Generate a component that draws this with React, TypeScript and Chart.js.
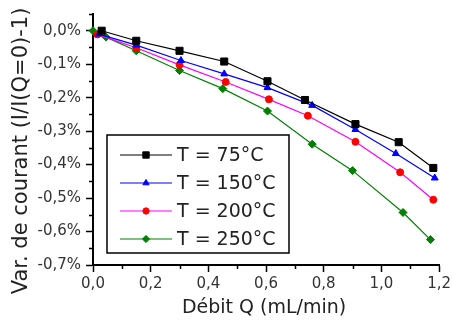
import React, { useEffect, useRef } from "react";
import { Chart, registerables } from "chart.js";

Chart.register(...registerables);

// Débit Q (mL/min) and relative current change (%) per temperature
const q75 = [0.03, 0.15, 0.3, 0.455, 0.605, 0.735, 0.91, 1.06, 1.18];
const v75 = [0.0, -0.03, -0.06, -0.092, -0.151, -0.207, -0.279, -0.333, -0.41];

const q150 = [0.02, 0.15, 0.305, 0.455, 0.605, 0.76, 0.91, 1.05, 1.185];
const v150 = [-0.01, -0.043, -0.089, -0.129, -0.17, -0.223, -0.295, -0.367, -0.44];

const q200 = [0.015, 0.15, 0.3, 0.46, 0.61, 0.745, 0.91, 1.065, 1.18];
const v200 = [-0.011, -0.051, -0.102, -0.153, -0.205, -0.254, -0.332, -0.423, -0.505];

const q250 = [0.0, 0.045, 0.15, 0.3, 0.45, 0.605, 0.76, 0.9, 1.075, 1.17];
const v250 = [0.0, -0.019, -0.06, -0.119, -0.173, -0.24, -0.339, -0.418, -0.543, -0.624];

const seriesLabels = ["T = 75°C", "T = 150°C", "T = 200°C", "T = 250°C"];

const xTicks = [0, 0.2, 0.4, 0.6, 0.8, 1.0, 1.2];
const xMinor = [0.1, 0.3, 0.5, 0.7, 0.9, 1.1];
const yTicks = [0, -0.1, -0.2, -0.3, -0.4, -0.5, -0.6, -0.7];
const yMinor = [0.05, -0.05, -0.15, -0.25, -0.35, -0.45, -0.55, -0.65];

const xTitle = "Débit Q (mL/min)";
const yTitle = "Var. de courant (I/I(Q=0)-1)";

const FONT = "'DejaVu Sans', sans-serif";

function zip(xs: number[], ys: number[]) {
  return xs.map((x, i) => ({ x, y: ys[i] }));
}

function fmt(v: number) {
  const s = Math.abs(v).toFixed(1).replace(".", ",");
  return v < -1e-9 ? "-" + s : s;
}

const styles = [
  { line: "#000000", point: "#000000", style: "rect", r: 5 },
  { line: "#0000ff", point: "#0000ff", style: "triangle", r: 4 },
  { line: "#ff00ff", point: "#ff0000", style: "circle", r: 3.5 },
  { line: "#008000", point: "#008000", style: "rectRot", r: 4 },
];

function drawPointShape(ctx: CanvasRenderingContext2D, style: string, r: number, x: number, y: number) {
  ctx.beginPath();
  if (style === "rect") {
    const s = Math.SQRT1_2 * r;
    ctx.rect(x - s, y - s, 2 * s, 2 * s);
  } else if (style === "triangle") {
    const a = -Math.PI / 2;
    for (let k = 0; k < 3; k++) {
      const ang = a + (k * 2 * Math.PI) / 3;
      const px = x + Math.cos(ang) * r;
      const py = y + Math.sin(ang) * r;
      if (k === 0) ctx.moveTo(px, py);
      else ctx.lineTo(px, py);
    }
    ctx.closePath();
  } else if (style === "circle") {
    ctx.arc(x, y, r, 0, Math.PI * 2);
  } else {
    ctx.moveTo(x, y - r);
    ctx.lineTo(x + r, y);
    ctx.lineTo(x, y + r);
    ctx.lineTo(x - r, y);
    ctx.closePath();
  }
  ctx.fill();
  ctx.stroke();
}

const overlay = {
  id: "overlay",
  afterDraw(chart: any) {
    const ctx = chart.ctx;
    const xs = chart.scales.x;
    const ys = chart.scales.y;
    const area = chart.chartArea;
    ctx.save();
    // minor ticks
    ctx.strokeStyle = "#000";
    ctx.lineWidth = 1.5;
    ctx.beginPath();
    xMinor.forEach((v) => {
      const px = Math.round(xs.getPixelForValue(v)) + 0.5;
      ctx.moveTo(px, area.bottom);
      ctx.lineTo(px, area.bottom + 4);
    });
    yMinor.forEach((v) => {
      const py = Math.round(ys.getPixelForValue(v)) + 0.5;
      ctx.moveTo(area.left - 4, py);
      ctx.lineTo(area.left, py);
    });
    ctx.stroke();

    // axis titles
    ctx.fillStyle = "#222";
    ctx.textAlign = "center";
    ctx.textBaseline = "middle";
    ctx.font = `19px ${FONT}`;
    ctx.fillText(xTitle, (area.left + area.right) / 2 - 2, 308);
    ctx.save();
    ctx.translate(22, 151);
    ctx.rotate(-Math.PI / 2);
    ctx.font = `21px ${FONT}`;
    ctx.fillText(yTitle, 0, 0);
    ctx.restore();

    // legend box
    const bx = 107, by = 135, bw = 182, bh = 118;
    ctx.lineWidth = 1.5;
    ctx.strokeStyle = "#000";
    ctx.strokeRect(bx, by, bw, bh);
    ctx.font = `19px ${FONT}`;
    ctx.textAlign = "left";
    chart.data.datasets.forEach((ds: any, i: number) => {
      const ly = 155 + i * 28;
      const st = styles[i];
      ctx.strokeStyle = st.line;
      ctx.lineWidth = 1.2;
      ctx.beginPath();
      ctx.moveTo(120, ly);
      ctx.lineTo(172, ly);
      ctx.stroke();
      ctx.fillStyle = st.point;
      ctx.strokeStyle = st.point;
      ctx.lineWidth = 1;
      drawPointShape(ctx, st.style, st.r * 0.9, 146, ly);
      ctx.fillStyle = "#222";
      ctx.fillText(ds.label, 177, ly + 1);
    });
    ctx.restore();
  },
};

export default function App() {
  const ref = useRef<HTMLCanvasElement | null>(null);
  useEffect(() => {
    if (!ref.current) return;
    const data = [zip(q75, v75), zip(q150, v150), zip(q200, v200), zip(q250, v250)];
    const chart = new Chart(ref.current, {
      type: "line",
      data: {
        datasets: data.map((d, i) => ({
          label: seriesLabels[i],
          data: d,
          borderColor: styles[i].line,
          backgroundColor: styles[i].point,
          pointBackgroundColor: styles[i].point,
          pointBorderColor: styles[i].point,
          pointStyle: styles[i].style as any,
          pointRadius: styles[i].r,
          pointBorderWidth: 1,
          borderWidth: 1.2,
          tension: 0,
          clip: false as any,
        })),
      },
      options: {
        animation: false,
        responsive: false,
        layout: { padding: { top: 10, right: 12, left: 0, bottom: 0 } },
        plugins: { legend: { display: false }, tooltip: { enabled: false } },
        scales: {
          x: {
            type: "linear",
            min: 0,
            max: 1.2,
            afterBuildTicks: (s: any) => {
              s.ticks = xTicks.map((v) => ({ value: v }));
            },
            afterFit: (s: any) => {
              s.height = 58;
            },
            ticks: {
              color: "#333",
              font: { family: FONT, size: 15 },
              padding: 3,
              maxRotation: 0,
              callback: (v: any) => fmt(Number(v)),
            },
            grid: {
              drawOnChartArea: false,
              drawTicks: true,
              tickLength: 7,
              tickColor: "#000",
              tickWidth: 1.5,
            },
            border: { display: true, color: "#000", width: 2 },
          },
          y: {
            type: "linear",
            min: -0.7,
            max: 0.05,
            afterBuildTicks: (s: any) => {
              s.ticks = yTicks.map((v) => ({ value: v }));
            },
            afterFit: (s: any) => {
              s.width = 93;
            },
            ticks: {
              color: "#333",
              font: { family: FONT, size: 15 },
              padding: 5,
              callback: (v: any) => fmt(Number(v)) + "%",
            },
            grid: {
              drawOnChartArea: false,
              drawTicks: true,
              tickLength: 7,
              tickColor: "#000",
              tickWidth: 1.5,
            },
            border: { display: true, color: "#000", width: 2 },
          },
        },
      },
      plugins: [overlay],
    });
    return () => chart.destroy();
  }, []);
  return (
    <div style={{ position: "absolute", left: 0, top: 0, width: 454, height: 323, background: "#fff" }}>
      <canvas ref={ref} width={454} height={323} style={{ display: "block" }} />
    </div>
  );
}
